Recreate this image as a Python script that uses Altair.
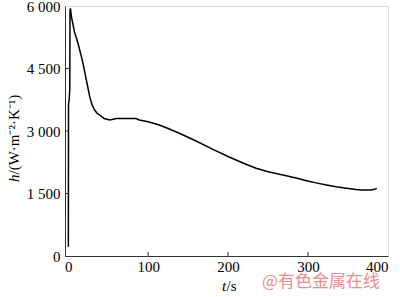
import altair as alt
import pandas as pd

# time (s) and heat transfer coefficient h (W·m^-2·K^-1)
t_vals = [0.2, 0.4, 1.2, 2.0, 2.3, 2.8, 4, 8.1, 10, 12.3, 14.4, 16.5, 18.5, 22.7, 26.9, 30, 33, 36,
          39.4, 45, 52, 56, 60, 70, 85, 89, 100, 114, 125, 139, 160, 181, 202, 220, 235, 250,
          268.5, 285, 298, 310, 323, 335, 348, 360, 366.5, 379, 383, 386]
h_vals = [220, 3650, 3750, 4000, 5900, 5945, 5750, 5350, 5250, 5100, 4944, 4784, 4624, 4224, 3824,
          3620, 3504, 3430, 3384, 3300, 3264, 3280, 3300, 3300, 3300, 3264, 3220, 3144, 3060,
          2945, 2760, 2560, 2370, 2220, 2105, 2020, 1944, 1870, 1808, 1755, 1704, 1660, 1624,
          1595, 1584, 1584, 1600, 1624]

x_ticks = [0, 100, 200, 300, 400]
y_ticks = [0, 1500, 3000, 4500, 6000]
x_inner_ticks = [100, 200, 300]
y_inner_ticks = [1500, 3000, 4500]

df = pd.DataFrame({"t": t_vals, "h": h_vals})
FONT = "Times New Roman"

xscale = alt.Scale(domain=[-4, 400], nice=False, zero=False)
yscale = alt.Scale(domain=[0, 6000], nice=False)

base = alt.Chart(df)

line = base.mark_line(color="black", strokeWidth=1.5).encode(
    x=alt.X("t:Q", scale=xscale,
            axis=alt.Axis(values=x_ticks, title=None, ticks=False, labelFont=FONT,
                          labelFontSize=15, labelColor="black", labelPadding=3,
                          domainColor="#333", grid=False)),
    y=alt.Y("h:Q", scale=yscale,
            axis=alt.Axis(values=y_ticks, title=None, ticks=False, labelFont=FONT,
                          labelFontSize=15, labelColor="black", labelPadding=5,
                          domainColor="#333", grid=False,
                          labelExpr="replace(format(datum.value, ','), ',', ' ')")),
)

yt = alt.Chart(pd.DataFrame({"v": y_inner_ticks})).mark_rule(color="#333").encode(
    y=alt.Y("v:Q", scale=yscale), x=alt.value(0), x2=alt.value(4))
xt = alt.Chart(pd.DataFrame({"v": x_inner_ticks})).mark_rule(color="#333").encode(
    x=alt.X("v:Q", scale=xscale), y=alt.value(250), y2=alt.value(246))

def txt(s, x, y, **kw):
    return alt.Chart(pd.DataFrame({"s": [s]})).mark_text(font=FONT, **kw).encode(
        text="s:N", x=alt.value(x), y=alt.value(y))

yt_h = txt("h", -51, 176, angle=270, align="left", baseline="middle", fontSize=15,
           fontStyle="italic", color="black")
yt_rest = txt("/(W·m⁻²·K⁻¹)", -51, 168.5, angle=270, align="left", baseline="middle",
              fontSize=15, color="black")
xt_t = txt("t", 157, 285, align="left", baseline="alphabetic", fontSize=15,
           fontStyle="italic", color="black")
xt_rest = txt("/s", 161.5, 285, align="left", baseline="alphabetic", fontSize=15, color="black")
wm = alt.Chart(pd.DataFrame({"s": ["@有色金属在线"]})).mark_text(
    font="Noto Sans CJK SC", fontSize=17, color="#ec8e8e", align="left", baseline="middle"
).encode(text="s:N", x=alt.value(197), y=alt.value(276))

chart = alt.layer(line, yt, xt, yt_h, yt_rest, xt_t, xt_rest, wm).properties(
    width=323, height=250,
    autosize=alt.AutoSizeParams(type="none"),
    padding={"left": 65, "top": 6, "right": 12, "bottom": 41},
).configure_view(stroke="#444", strokeWidth=1).configure(background="white", font=FONT)

chart.save("out.html", embed_options={"renderer": "svg", "actions": False})
